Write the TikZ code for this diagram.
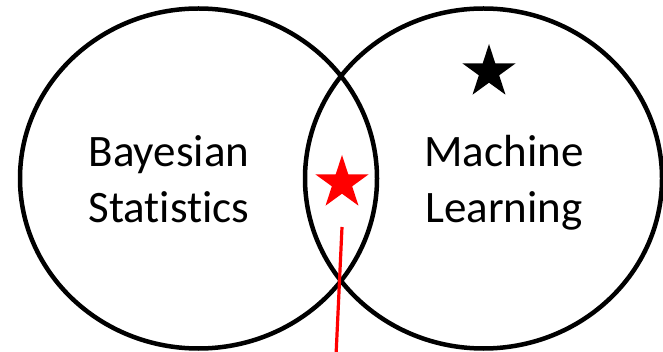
\documentclass[tikz,border=0pt]{standalone}
\usepackage{fontspec}
\setmainfont[Ligatures=NoCommon]{Carlito}
\usetikzlibrary{shapes.geometric}
\begin{document}
\begin{tikzpicture}[x=1pt,y=-1pt,
  setcircle/.style={draw=black,line width=4.5pt,ellipse,minimum width=357pt,minimum height=340pt,inner sep=0pt},
  starmark/.style={star,star points=5,star point ratio=2.618,inner sep=0pt,minimum size=56pt,draw=none},
  label/.style={align=center,font=\fontsize{45}{56}\selectfont,anchor=base},
  pointer/.style={draw=red,line width=3.2pt}]
\useasboundingbox (0,0) rectangle (663,352);
\node[setcircle] (bayes) at (198.5,178.5) {};
\node[setcircle] (ml) at (483.5,178.5) {};
\node[label] (bayestext) at (169,223) {Bayesian\\Statistics};
\node[label] (mltext) at (504,223) {Machine\\Learning};
\node[starmark,fill=black] (blackstar) at (489,72) {};
\node[starmark,fill=red] (redstar) at (342,183) {};
\coordinate (ptop) at (342,227);
\coordinate (pbot) at (336,356);
\draw[pointer] (ptop) -- (pbot);
\end{tikzpicture}
\end{document}
